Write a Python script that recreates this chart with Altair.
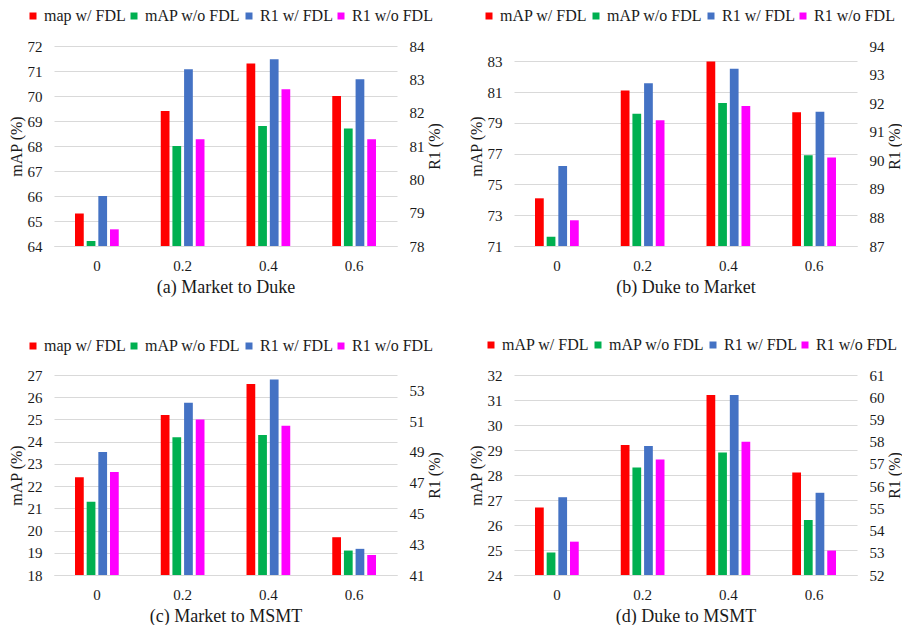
import altair as alt
import pandas as pd

x_labels = ["0", "0.2", "0.4", "0.6"]
colors = ["#FF0000", "#00B050", "#4472C4", "#FF00FF"]

series_ac = ["map w/ FDL", "mAP w/o FDL", "R1 w/ FDL", "R1 w/o FDL"]
series_bd = ["mAP w/ FDL", "mAP w/o FDL", "R1 w/ FDL", "R1 w/o FDL"]

# (a) Market to Duke
a_map_w = [65.3, 69.4, 71.3, 70.0]
a_map_wo = [64.2, 68.0, 68.8, 68.7]
a_r1_w = [79.5, 83.3, 83.6, 83.0]
a_r1_wo = [78.5, 81.2, 82.7, 81.2]

# (b) Duke to Market
b_map_w = [74.1, 81.1, 83.0, 79.7]
b_map_wo = [71.6, 79.6, 80.3, 76.9]
b_r1_w = [89.8, 92.7, 93.2, 91.7]
b_r1_wo = [87.9, 91.4, 91.9, 90.1]

# (c) Market to MSMT
c_map_w = [22.4, 25.2, 26.6, 19.7]
c_map_wo = [21.3, 24.2, 24.3, 19.1]
c_r1_w = [49.0, 52.2, 53.7, 42.7]
c_r1_wo = [47.7, 51.1, 50.7, 42.3]

# (d) Duke to MSMT
d_map_w = [26.7, 29.2, 31.2, 28.1]
d_map_wo = [24.9, 28.3, 28.9, 26.2]
d_r1_w = [55.5, 57.8, 60.1, 55.7]
d_r1_wo = [53.5, 57.2, 58.0, 53.1]

FONT = "Liberation Serif"
TXT = "#1a1a1a"
GRID = "#D9D9D9"
W, H = 343, 200


def make_df(series, vals):
    rows = []
    for s, v in zip(series, vals):
        for c, val in zip(x_labels, v):
            rows.append({"cat": c, "series": s, "val": val})
    return pd.DataFrame(rows)


def panel(title, series, mw, mwo, rw, rwo, ldom, lticks, rdom, rticks, lx, ly):
    left_df = make_df(series[:2], [mw, mwo])
    right_df = make_df(series[2:], [rw, rwo])
    xenc = alt.X("cat:N", sort=x_labels,
                 scale=alt.Scale(paddingInner=0.49, paddingOuter=0.245),
                 axis=alt.Axis(title=title, labelAngle=0, ticks=False,
                               domainColor=GRID, labelPadding=12,
                               titlePadding=5, titleFontSize=18,
                               labelFontSize=15, labelFont=FONT, titleFont=FONT,
                               labelColor=TXT, titleColor=TXT,
                               titleFontWeight="normal"))
    xoff = alt.XOffset("series:N", scale=alt.Scale(domain=series, paddingInner=0.25))
    color = alt.Color("series:N",
                      scale=alt.Scale(domain=series, range=colors),
                      legend=alt.Legend(title=None, orient="none", direction="horizontal",
                                        legendX=lx, legendY=ly, symbolType="square",
                                        symbolSize=49, symbolStrokeWidth=0,
                                        labelFontSize=16, labelFont=FONT,
                                        labelColor=TXT, columnPadding=0,
                                        symbolOffset=0, labelOffset=3, padding=0))
    left = alt.Chart(left_df).mark_bar().encode(
        x=xenc, xOffset=xoff,
        y=alt.Y("val:Q", scale=alt.Scale(domain=ldom, zero=False, nice=False),
                axis=alt.Axis(title="mAP (%)", values=lticks, ticks=False, domain=False,
                              gridColor=GRID, labelPadding=12, titlePadding=3,
                              labelFontSize=15, titleFontSize=16,
                              labelFont=FONT, titleFont=FONT,
                              labelColor=TXT, titleColor=TXT,
                              titleFontWeight="normal")),
        y2=alt.datum(ldom[0]),
        color=color,
    )
    right = alt.Chart(right_df).mark_bar().encode(
        x=xenc, xOffset=xoff,
        y=alt.Y("val:Q", scale=alt.Scale(domain=rdom, zero=False, nice=False),
                axis=alt.Axis(title="R1 (%)", orient="right", values=rticks, ticks=False,
                              domain=False, grid=False, labelPadding=12, titlePadding=2,
                              titleAngle=270, titleBaseline="top",
                              labelFontSize=15, titleFontSize=16,
                              labelFont=FONT, titleFont=FONT,
                              labelColor=TXT, titleColor=TXT,
                              titleFontWeight="normal")),
        y2=alt.datum(rdom[0]),
        color=color,
    )
    return alt.layer(left, right).resolve_scale(y="independent").properties(width=W, height=H)


pa = panel("(a) Market to Duke", series_ac, a_map_w, a_map_wo, a_r1_w, a_r1_wo,
           [64, 72], list(range(64, 73)), [78, 84], list(range(78, 85)), -29, -38)
pb = panel("(b) Duke to Market", series_bd, b_map_w, b_map_wo, b_r1_w, b_r1_wo,
           [71, 84], list(range(71, 84, 2)), [87, 94], list(range(87, 95)), -33, -38)
pc = panel("(c) Market to MSMT", series_ac, c_map_w, c_map_wo, c_r1_w, c_r1_wo,
           [18, 27], list(range(18, 28)), [41, 54], list(range(41, 54, 2)), -29, -37)
pd_ = panel("(d) Duke to MSMT", series_bd, d_map_w, d_map_wo, d_r1_w, d_r1_wo,
            [24, 32], list(range(24, 33)), [52, 61], list(range(52, 62)), -31, -38)

chart = alt.vconcat(
    alt.hconcat(pa, pb, spacing=26).resolve_scale(color="independent", xOffset="independent"),
    alt.hconcat(pc, pd_, spacing=26).resolve_scale(color="independent", xOffset="independent"),
    spacing=41,
).resolve_scale(color="independent", xOffset="independent").configure(
    background="white", padding=0
).configure_view(stroke=None)

chart.save("out.html", embed_options={"renderer": "svg", "actions": False})
